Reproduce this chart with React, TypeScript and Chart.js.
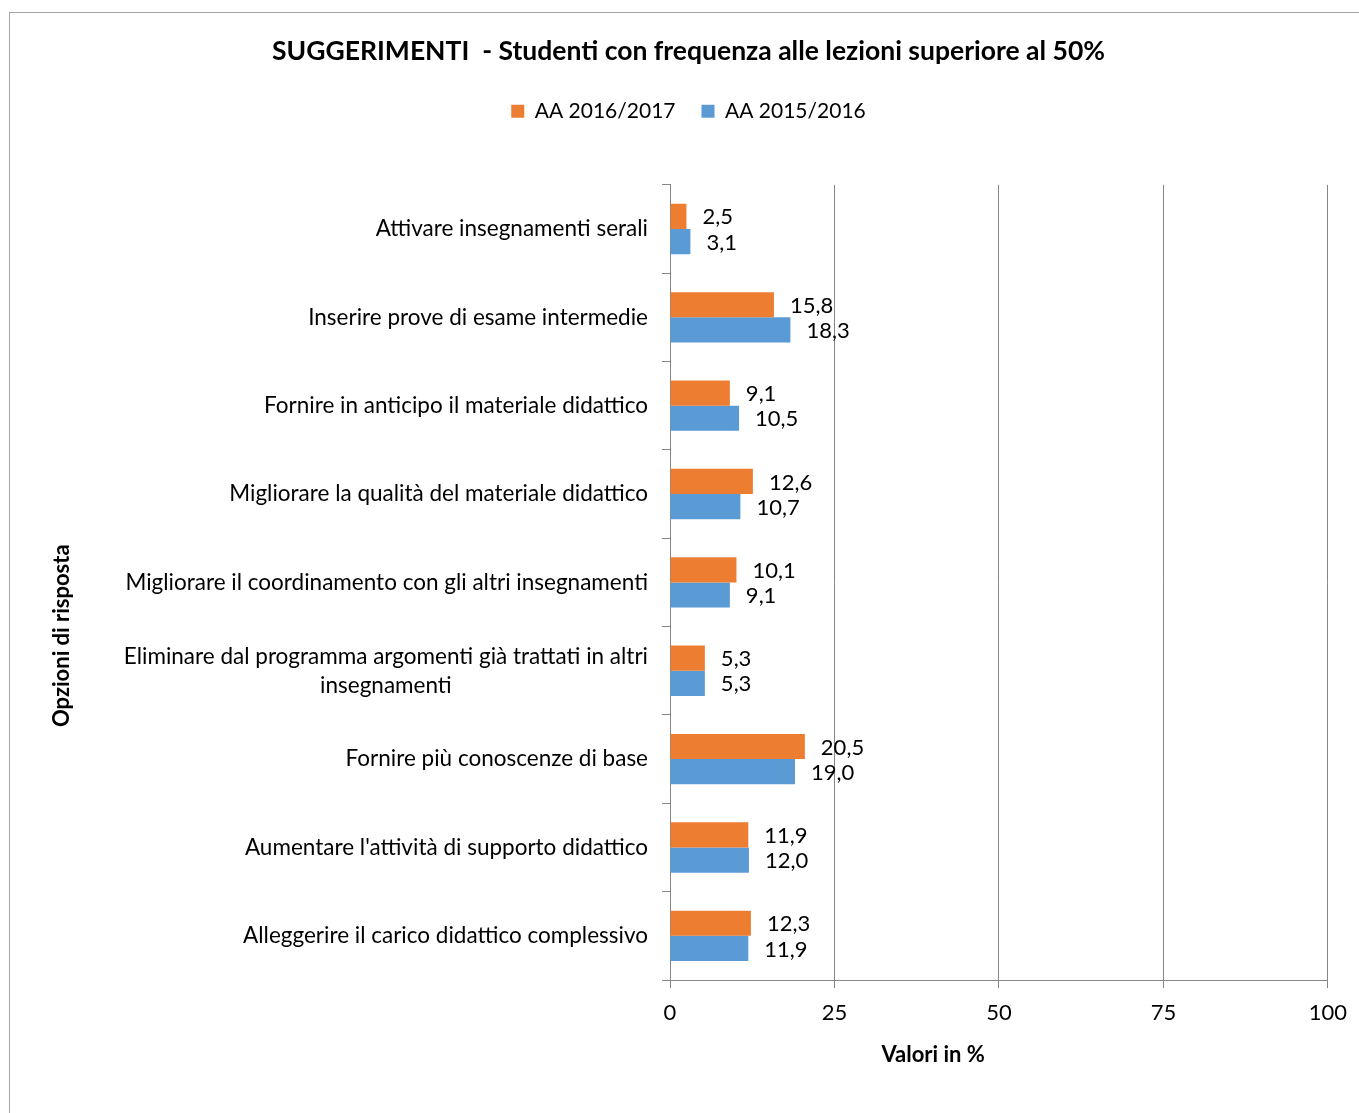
import React, { useEffect, useRef } from "react";
import { Chart, registerables } from "chart.js";

Chart.register(...registerables);

const categories: string[][] = [
  ["Attivare insegnamenti serali"],
  ["Inserire prove di esame intermedie"],
  ["Fornire in anticipo il materiale didattico"],
  ["Migliorare la qualità del materiale didattico"],
  ["Migliorare il coordinamento con gli altri insegnamenti"],
  ["Eliminare dal programma argomenti già trattati in altri", "insegnamenti"],
  ["Fornire più conoscenze di base"],
  ["Aumentare l'attività di supporto didattico"],
  ["Alleggerire il carico didattico complessivo"],
];
const seriesNames = ["AA 2016/2017", "AA 2015/2016"];
const values20162017 = [2.5, 15.8, 9.1, 12.6, 10.1, 5.3, 20.5, 11.9, 12.3];
const values20152016 = [3.1, 18.3, 10.5, 10.7, 9.1, 5.3, 19.0, 12.0, 11.9];
const xTickValues = [0, 25, 50, 75, 100];
const titleText = "SUGGERIMENTI  - Studenti con frequenza alle lezioni superiore al 50%";
const xAxisTitle = "Valori in %";
const yAxisTitle = "Opzioni di risposta";

const FONT = "Lato, 'Open Sans', sans-serif";
const TEXT_SIZE = 22;
const CAT_SIZE = 22.5;
const GRID = "#868686";
const ORANGE = "#ED7D31";
const BLUE = "#5B9BD5";
const W = 1359;
const H = 1113;
const PAD_LEFT = 48;

const customDraw = {
  id: "customDraw",
  beforeInit(chart: any) {
    const legend = chart.legend;
    if (legend) {
      const orig = legend.fit;
      legend.fit = function () {
        orig.call(this);
        this.height += 53;
      };
    }
  },
  afterDraw(chart: any) {
    const ctx = chart.ctx;
    const area = chart.chartArea;
    const ys = chart.scales.y;
    const xs = chart.scales.x;
    ctx.save();
    ctx.fillStyle = "#000";
    // data labels
    ctx.font = `${TEXT_SIZE}px ${FONT}`;
    ctx.textAlign = "left";
    ctx.textBaseline = "middle";
    chart.data.datasets.forEach((ds: any, di: number) => {
      const meta = chart.getDatasetMeta(di);
      meta.data.forEach((bar: any, i: number) => {
        const v = ds.data[i] as number;
        ctx.fillText(v.toFixed(1).replace(".", ","), bar.x + 16, bar.y + 1);
      });
    });
    // category labels (block right-aligned, lines centered)
    ctx.font = `${CAT_SIZE}px ${FONT}`;
    const rightEdge = area.left - 22;
    const lineH = 29;
    categories.forEach((lines, i) => {
      const cy = ys.getPixelForValue(i);
      const widths = lines.map((l) => ctx.measureText(l).width);
      const blockW = Math.max(...widths);
      const cx = rightEdge - blockW / 2;
      ctx.textAlign = "center";
      const startY = cy - ((lines.length - 1) * lineH) / 2;
      lines.forEach((l, k) => {
        ctx.fillText(l, cx, startY + k * lineH);
      });
    });
    // axis titles
    ctx.font = `bold ${TEXT_SIZE}px ${FONT}`;
    ctx.textAlign = "center";
    ctx.textBaseline = "middle";
    ctx.fillText(xAxisTitle, xs.getPixelForValue(40), area.bottom + 75);
    ctx.save();
    ctx.translate(62, area.top + area.height * 0.567);
    ctx.rotate(-Math.PI / 2);
    ctx.fillText(yAxisTitle, 0, 0);
    ctx.restore();
    ctx.restore();
  },
};

export default function App() {
  const ref = useRef<HTMLCanvasElement | null>(null);
  useEffect(() => {
    if (!ref.current) return;
    const chart = new Chart(ref.current, {
      type: "bar",
      data: {
        labels: categories.map((c) => c.join(" ")),
        datasets: [
          {
            label: seriesNames[0],
            data: values20162017,
            backgroundColor: ORANGE,
            borderWidth: 0,
            barPercentage: 1,
            categoryPercentage: 0.57,
          },
          {
            label: seriesNames[1],
            data: values20152016,
            backgroundColor: BLUE,
            borderWidth: 0,
            barPercentage: 1,
            categoryPercentage: 0.57,
          },
        ],
      },
      options: {
        indexAxis: "y",
        responsive: false,
        animation: false,
        devicePixelRatio: 1,
        layout: { padding: { left: PAD_LEFT, right: 30, top: 0, bottom: 0 } },
        plugins: {
          title: {
            display: true,
            text: titleText,
            color: "#000",
            font: { family: FONT, size: 26.5, weight: "bold" },
            padding: { top: 36, bottom: 7 },
          },
          legend: {
            display: true,
            position: "top",
            labels: {
              color: "#000",
              font: { family: FONT, size: 21 },
              boxWidth: 13,
              boxHeight: 13,
              padding: 26,
            },
          },
          tooltip: { enabled: false },
        },
        scales: {
          x: {
            type: "linear",
            min: 0,
            max: 100,
            afterBuildTicks: (scale: any) => {
              scale.ticks = xTickValues.map((v) => ({ value: v }));
            },
            ticks: {
              color: "#000",
              font: { family: FONT, size: TEXT_SIZE },
              padding: 12,
            },
            grid: { color: GRID, tickLength: 8, lineWidth: 1 },
            border: { display: true, color: GRID },
            afterFit: (scale: any) => {
              scale.height = 133;
            },
          },
          y: {
            type: "category",
            offset: true,
            ticks: { display: false },
            grid: {
              offset: true,
              drawOnChartArea: false,
              drawTicks: true,
              tickLength: 8,
              color: GRID,
            },
            border: { display: true, color: GRID },
            afterFit: (scale: any) => {
              scale.width = 670 - PAD_LEFT;
            },
          },
        },
      },
      plugins: [customDraw],
    } as any);
    return () => chart.destroy();
  }, []);

  return (
    <div style={{ position: "fixed", left: 0, top: 0, width: W, height: H, overflow: "hidden", background: "#fff" }}>
      <div
        style={{
          position: "absolute",
          left: 9,
          top: 12,
          width: 2000,
          height: 2000,
          borderTop: "1px solid #a6a6a6",
          borderLeft: "1px solid #a6a6a6",
        }}
      />
      <canvas
        ref={ref}
        width={W}
        height={H}
        style={{ position: "absolute", left: 0, top: 0, width: W, height: H }}
      />
    </div>
  );
}
